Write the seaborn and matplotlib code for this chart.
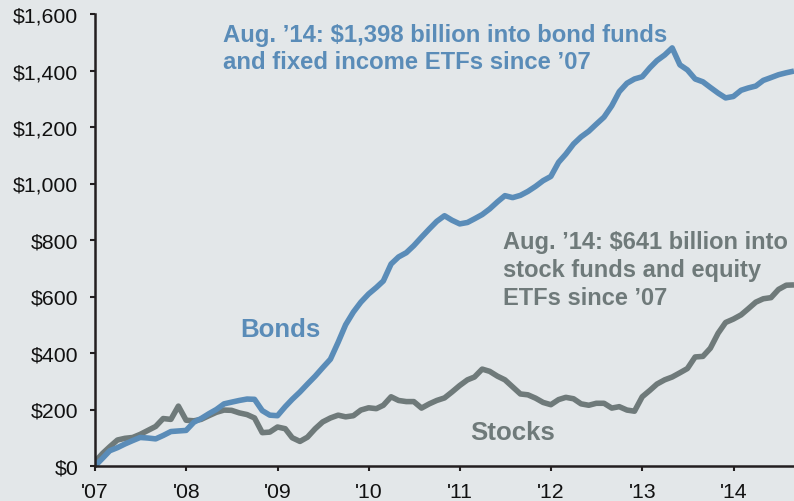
import matplotlib
matplotlib.use("Agg")
import matplotlib.pyplot as plt
import matplotlib.dates as mdates
import numpy as np
import pandas as pd
import seaborn as sns

# Cumulative flows since the start of 2007, month-end values, $ billions
month_ends = pd.date_range("2006-12-31", "2014-08-31", freq="ME")

bonds = [0, 28, 54, 65, 78, 90, 101, 99, 96, 108,
         122, 124, 126, 155, 168, 185, 200, 220, 226, 232,
         237, 236, 196, 180, 178, 210, 236, 262, 290, 318,
         348, 378, 438, 500, 545, 580, 609, 632, 655, 715,
         740, 755, 780, 810, 839, 866, 886, 870, 857, 862,
         875, 890, 910, 935, 957, 950, 958, 972, 990, 1010,
         1025, 1075, 1104, 1140, 1165, 1185, 1210, 1235, 1275, 1325,
         1355, 1370, 1378, 1410, 1435, 1455, 1480, 1420, 1402, 1370,
         1360, 1340, 1320, 1303, 1308, 1330, 1338, 1345, 1365, 1375,
         1385, 1392, 1398]

stocks = [15, 45, 68, 92, 98, 101, 112, 126, 140, 168,
          165, 212, 162, 160, 165, 178, 190, 198, 197, 188,
          182, 170, 118, 120, 138, 132, 100, 87, 102, 132,
          156, 170, 180, 174, 178, 198, 206, 203, 215, 245,
          232, 228, 228, 205, 220, 232, 241, 262, 285, 305,
          315, 343, 335, 318, 305, 280, 255, 252, 240, 225,
          217, 235, 243, 238, 220, 215, 222, 222, 205, 210,
          198, 194, 245, 268, 290, 305, 315, 330, 345, 386,
          388, 417, 470, 508, 520, 535, 556, 580, 592, 596,
          625, 640, 641]

y_ticks = [0, 200, 400, 600, 800, 1000, 1200, 1400, 1600]
y_tick_labels = ["$0", "$200", "$400", "$600", "$800", "$1,000", "$1,200", "$1,400", "$1,600"]

bond_note = ["Aug. \u201914: $1,398 billion into bond funds",
             "and fixed income ETFs since \u201907"]
stock_note = ["Aug. \u201914: $641 billion into",
              "stock funds and equity",
              "ETFs since \u201907"]

BLUE = "#5a8cb8"
GREY = "#6f7a7a"
BG = "#e3e7e9"
INK = "#231f20"

sns.set_style("ticks")
plt.rcParams["font.family"] = ["Liberation Sans", "DejaVu Sans"]

W, H = 794, 502
fig = plt.figure(figsize=(W / 100, H / 100), dpi=100, facecolor=BG)
ax = fig.add_axes([95 / W, 35 / H, (W - 95) / W, (467 - 15) / H])
ax.set_facecolor(BG)

df = pd.DataFrame({"date": month_ends, "Bonds": bonds, "Stocks": stocks})
line_kw = dict(linewidth=4.0, solid_joinstyle="round", solid_capstyle="butt")
sns.lineplot(data=df, x="date", y="Stocks", color=GREY, ax=ax, **line_kw)
sns.lineplot(data=df, x="date", y="Bonds", color=BLUE, ax=ax, **line_kw)

ax.set_xlim(month_ends[0], month_ends[-1])
ax.set_ylim(0, 1600)
ax.set_yticks(y_ticks)
ax.set_yticklabels(y_tick_labels)
ax.xaxis.set_major_locator(mdates.YearLocator())
ax.xaxis.set_major_formatter(mdates.DateFormatter("'%y"))
ax.set_xlabel("")
ax.set_ylabel("")

for side in ("top", "right"):
    ax.spines[side].set_visible(False)
for side in ("left", "bottom"):
    ax.spines[side].set_color(INK)
    ax.spines[side].set_linewidth(1.8)
ax.tick_params(axis="both", colors=INK, width=1.5, length=3.8,
               labelsize=15.3, labelcolor="#111111")
ax.tick_params(axis="y", pad=8.2)
ax.tick_params(axis="x", pad=7.5)

def fig_text(x_px, y_px, s, color, size):
    fig.text(x_px / W, 1 - y_px / H, s, color=color, fontsize=size,
             fontweight="bold", ha="left", va="baseline")

for i, line in enumerate(bond_note):
    fig_text(223, 41.7 + 27.7 * i, line, BLUE, 17.2)
for i, line in enumerate(stock_note):
    fig_text(503, 248.7 + 28.2 * i, line, GREY, 17.05)

fig_text(240.5, 336.7, "Bonds", BLUE, 18.6)
fig_text(470.5, 440, "Stocks", GREY, 18.6)

fig.savefig("out.png", dpi=100, facecolor=BG)
